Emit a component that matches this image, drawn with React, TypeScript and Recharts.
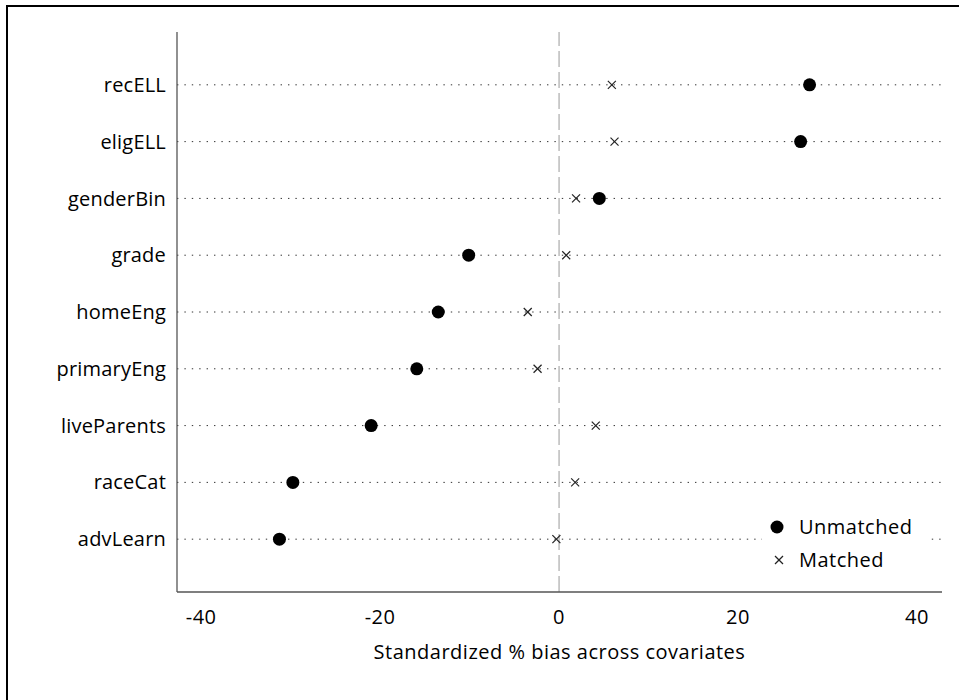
import {
  ScatterChart,
  Scatter,
  XAxis,
  YAxis,
  CartesianGrid,
  ReferenceLine,
  Legend,
  Customized
} from 'recharts';

// Covariates, top to bottom
const covariates = [
  'recELL',
  'eligELL',
  'genderBin',
  'grade',
  'homeEng',
  'primaryEng',
  'liveParents',
  'raceCat',
  'advLearn'
];

// Standardized % bias before matching
const unmatched = [28.0, 27.0, 4.5, -10.1, -13.5, -15.9, -21.0, -29.75, -31.25];

// Standardized % bias after matching
const matched = [5.9, 6.2, 1.9, 0.8, -3.5, -2.4, 4.1, 1.8, -0.3];

const xTicks = [-40, -20, 0, 20, 40];

const FONT = '"Open Sans", sans-serif';
const FS = 20;

// row position: first covariate sits at the top
const rowY = (i: number) => covariates.length - i;
const rowTicks = covariates.map((_, i) => rowY(i));

const unmatchedData = covariates.map((name, i) => ({ name, x: unmatched[i], y: rowY(i) }));
const matchedData = covariates.map((name, i) => ({ name, x: matched[i], y: rowY(i) }));

function Dot(props: any) {
  const { cx, cy } = props;
  if (cx == null || cy == null) return null;
  return <circle cx={cx} cy={cy} r={6.5} fill="#000" />;
}

function Cross(props: any) {
  const { cx, cy } = props;
  if (cx == null || cy == null) return null;
  const s = 4;
  return (
    <g stroke="#222" strokeWidth={1.2}>
      <line x1={cx - s} y1={cy - s} x2={cx + s} y2={cy + s} />
      <line x1={cx - s} y1={cy + s} x2={cx + s} y2={cy - s} />
    </g>
  );
}

// outer frame: only its top and left edges fall inside the picture
function Frame() {
  return (
    <g stroke="#000" strokeWidth={2}>
      <line x1={7} y1={5} x2={7} y2={700} />
      <line x1={6} y1={6} x2={959} y2={6} />
    </g>
  );
}

function LegendBox() {
  return (
    <div
      style={{
        background: 'white',
        width: 168,
        height: 75,
        position: 'relative',
        fontFamily: FONT,
        fontSize: FS,
        letterSpacing: 0.5,
        color: '#000'
      }}
    >
      <svg width={30} height={75} style={{ position: 'absolute', left: 0, top: 0 }}>
        <circle cx={15} cy={22} r={6.5} fill="#000" />
        <g stroke="#222" strokeWidth={1.2}>
          <line x1={13} y1={51} x2={21} y2={59} />
          <line x1={13} y1={59} x2={21} y2={51} />
        </g>
      </svg>
      <div style={{ position: 'absolute', left: 37, top: 22, transform: 'translateY(-50%)', lineHeight: 1 }}>
        Unmatched
      </div>
      <div style={{ position: 'absolute', left: 37, top: 55, transform: 'translateY(-50%)', lineHeight: 1 }}>
        Matched
      </div>
    </div>
  );
}

export default function App() {
  return (
    <div style={{ position: 'relative', width: 959, height: 700, fontFamily: FONT, letterSpacing: 0.5 }}>
      <style>{'body { margin: 0; }'}</style>
      <ScatterChart
        width={959}
        height={700}
        margin={{ top: 32, right: 17, left: 0, bottom: 0 }}
      >
        <Customized component={Frame} />
        <CartesianGrid
          vertical={false}
          horizontalValues={rowTicks}
          stroke="#333"
          strokeDasharray="1.4 6"
        />
        <XAxis
          type="number"
          dataKey="x"
          domain={[-42.7, 42.8]}
          ticks={xTicks}
          allowDataOverflow
          height={108}
          tickLine={false}
          tickMargin={12}
          axisLine={{ stroke: '#555', strokeWidth: 1.3 }}
          tick={{ fill: '#000', fontSize: FS }}
          label={{
            value: 'Standardized % bias across covariates',
            position: 'insideBottom',
            offset: 41,
            fill: '#000',
            fontSize: FS
          }}
        />
        <YAxis
          type="number"
          dataKey="y"
          domain={[0.07, 9.93]}
          ticks={rowTicks}
          allowDataOverflow
          width={177}
          tickLine={false}
          tickMargin={5}
          axisLine={{ stroke: '#555', strokeWidth: 1.3 }}
          tick={{ fill: '#000', fontSize: FS, letterSpacing: 0.2 }}
          tickFormatter={(v: number) => covariates[covariates.length - v]}
        />
        <ReferenceLine x={0} stroke="#999" strokeDasharray="16 5" />
        <Legend
          layout="vertical"
          align="center"
          verticalAlign="middle"
          wrapperStyle={{ left: 762, top: 505, width: 168 }}
          content={() => <LegendBox />}
        />
        <Scatter
          name="Unmatched"
          data={unmatchedData}
          shape={Dot}
          isAnimationActive={false}
        />
        <Scatter
          name="Matched"
          data={matchedData}
          shape={Cross}
          isAnimationActive={false}
        />
      </ScatterChart>
    </div>
  );
}
